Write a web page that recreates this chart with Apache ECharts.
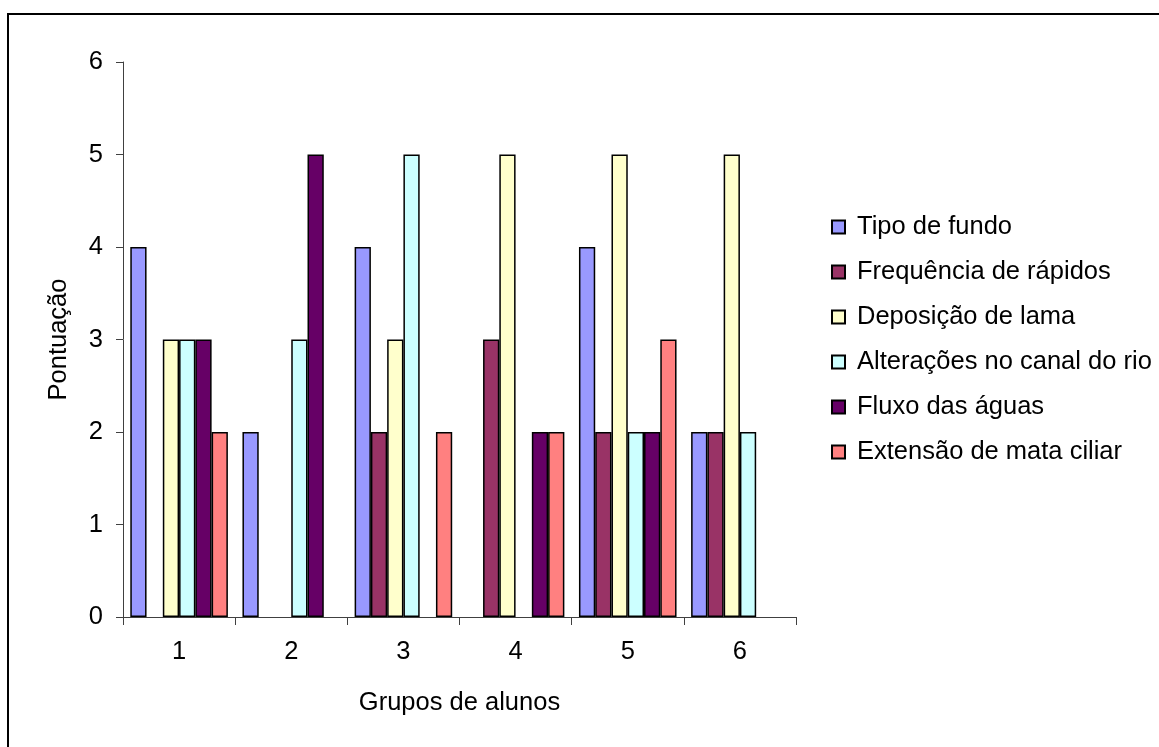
<!DOCTYPE html>
<html>
<head>
<meta charset="utf-8">
<script src="https://cdn.jsdelivr.net/npm/echarts@6/dist/echarts.min.js"></script>
<style>
  html, body { margin: 0; padding: 0; background: #fff; }
  #chart { width: 1159px; height: 747px; }
</style>
</head>
<body>
<div id="chart"></div>
<script>
// Groups of students along the x axis
const groups = ['1', '2', '3', '4', '5', '6'];

// Scores per criterion, one value per group
const tipoDeFundo        = [4, 2, 4, 0, 4, 2];
const frequenciaRapidos  = [0, 0, 2, 3, 2, 2];
const deposicaoLama      = [3, 0, 3, 5, 5, 5];
const alteracoesCanal    = [3, 3, 5, 0, 2, 2];
const fluxoAguas         = [3, 5, 0, 2, 2, 0];
const extensaoMataCiliar = [2, 0, 2, 2, 3, 0];

const seriesNames = [
  'Tipo de fundo',
  'Frequência de rápidos',
  'Deposição de lama',
  'Alterações no canal do rio',
  'Fluxo das águas',
  'Extensão de mata ciliar'
];
const seriesValues = [
  tipoDeFundo, frequenciaRapidos, deposicaoLama,
  alteracoesCanal, fluxoAguas, extensaoMataCiliar
];
const seriesColors = ['#9999FF', '#993366', '#FFFFCC', '#CCFFFF', '#660066', '#FF8080'];

// Y axis ticks
const yMin = 0, yMax = 6, yStep = 1;

const FONT = '"Liberation Sans", Arial, sans-serif';
const FONT_SIZE = 25.5;
const AXIS_COLOR = '#404040';

const chart = echarts.init(document.getElementById('chart'), null, { renderer: 'canvas' });

chart.setOption({
  animation: false,
  backgroundColor: '#ffffff',
  textStyle: { fontFamily: FONT, color: '#000' },
  graphic: [{
    type: 'rect',
    shape: { x: 8, y: 14, width: 1200, height: 800 },
    style: { fill: 'none', stroke: '#000', lineWidth: 2 },
    silent: true
  }],
  grid: { left: 123, right: 363, top: 62, bottom: 130, containLabel: false },
  legend: {
    orient: 'vertical',
    left: 831,
    top: 212,
    padding: 0,
    itemWidth: 13,
    itemHeight: 13,
    itemGap: 15,
    icon: 'rect',
    textStyle: { fontFamily: FONT, fontSize: FONT_SIZE, color: '#000', lineHeight: 30, padding: [0, 0, 0, 7] },
    data: seriesNames
  },
  xAxis: {
    type: 'category',
    data: groups,
    name: 'Grupos de alunos',
    nameLocation: 'middle',
    nameGap: 73,
    nameTextStyle: { fontFamily: FONT, fontSize: FONT_SIZE, color: '#000' },
    axisLine: { lineStyle: { color: AXIS_COLOR, width: 1 } },
    axisTick: { show: true, length: 8, alignWithLabel: false, lineStyle: { color: AXIS_COLOR } },
    axisLabel: { fontFamily: FONT, fontSize: FONT_SIZE, color: '#000', margin: 22 },
    splitLine: { show: false }
  },
  yAxis: {
    type: 'value',
    min: yMin,
    max: yMax,
    interval: yStep,
    name: 'Pontuação',
    nameLocation: 'middle',
    nameGap: 51,
    nameRotate: 90,
    nameTextStyle: { fontFamily: FONT, fontSize: FONT_SIZE, color: '#000' },
    axisLine: { show: true, lineStyle: { color: AXIS_COLOR, width: 1 } },
    axisTick: { show: true, length: 7, lineStyle: { color: AXIS_COLOR } },
    axisLabel: { fontFamily: FONT, fontSize: FONT_SIZE, color: '#000', margin: 20 },
    splitLine: { show: false }
  },
  series: seriesNames.map((name, i) => ({
    name: name,
    type: 'bar',
    barGap: '0%',
    barCategoryGap: '13%',
    itemStyle: { color: seriesColors[i], borderColor: '#000', borderWidth: 1.5 },
    data: seriesValues[i].map(v => (v === 0 ? '-' : v))
  }))
});
</script>
</body>
</html>
